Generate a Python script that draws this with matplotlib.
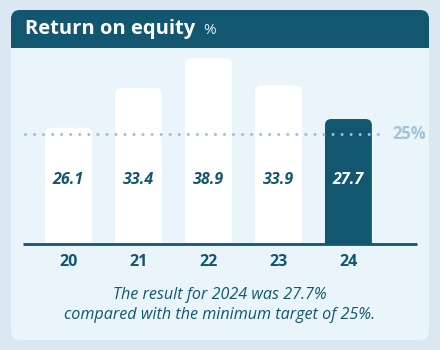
import matplotlib.pyplot as plt
from matplotlib.patches import FancyBboxPatch, Rectangle
import matplotlib.transforms as mtransforms

years = ["20", "21", "22", "23", "24"]
roe = [26.1, 33.4, 38.9, 33.9, 27.7]
target = 25
title = "Return on equity"
unit = "%"
caption = "The result for 2024 was 27.7%\ncompared with the minimum target of 25%."

DARK = "#12566f"
OUTER = "#dbe8f1"
CARD = "#e9f5fb"
DOTS = "#9ec0d6"
FONT = "Open Sans"

W, H = 440, 350
fig = plt.figure(figsize=(W / 100, H / 100), dpi=100, facecolor=OUTER)

# background card drawn in pixel space
bg = fig.add_axes([0, 0, 1, 1])
bg.set_xlim(0, W)
bg.set_ylim(H, 0)
bg.axis("off")
bg.add_patch(FancyBboxPatch((11, 10), 418, 330, boxstyle="round,pad=0,rounding_size=9",
                            fc=CARD, ec="none"))
bg.add_patch(FancyBboxPatch((11, 10), 418, 38, boxstyle="round,pad=0,rounding_size=9",
                            fc=DARK, ec="none"))
bg.add_patch(Rectangle((11, 30), 418, 18, fc=DARK, ec="none"))
bg.text(25, 29, title, color="white", fontsize=14.5, fontweight="bold",
        family=FONT, va="center", ha="left")
bg.text(203, 30, unit, color="#e6f0f5", fontsize=11, family=FONT, va="center")
bg.text(W / 2, 305, caption, color=DARK, fontsize=11.6, style="italic",
        family=FONT, ha="center", va="center", linespacing=1.38)

# chart axes: x from px 23 to 417, y from px 244 (bottom) to 50
ax = fig.add_axes([23 / W, (H - 244) / H, 394 / W, 194 / H])
ax.patch.set_alpha(0)
for s in ax.spines.values():
    s.set_visible(False)
ax.set_xlim(-0.65, 4.98)
ax.set_ylim(4.6, 40.46)
ax.set_xticks(range(len(years)))
ax.set_xticklabels(years)
ax.tick_params(axis="x", length=0, pad=7, labelsize=11.5, labelcolor=DARK)
for t in ax.get_xticklabels():
    t.set_fontweight("bold")
    t.set_family(FONT)
ax.set_yticks([])

bars = ax.bar(range(len(years)), roe, width=0.67)
for i, b in enumerate(bars):
    b.set_visible(False)
    color = DARK if i == len(years) - 1 else "white"
    ax.add_patch(FancyBboxPatch((b.get_x(), b.get_y()), b.get_width(), b.get_height(),
                                boxstyle="round,pad=0,rounding_size=0.09",
                                mutation_aspect=12.9, fc=color, ec="none", zorder=2))
    ax.text(b.get_x() + b.get_width() / 2, 16.5, f"{roe[i]:.1f}",
            color="white" if i == len(years) - 1 else DARK,
            fontsize=11.5, fontweight="bold", style="italic", family=FONT,
            ha="center", va="center", zorder=4)

ax.axhline(ax.get_ylim()[0], color=DARK, lw=2.0, zorder=5, solid_capstyle="butt",
           clip_on=False)
ax.axhline(target, xmin=0.005, xmax=0.92, color=DOTS, lw=2.2,
           ls=(0, (0.01, 2.95)), dash_capstyle="round", zorder=3)
trans = mtransforms.blended_transform_factory(ax.transAxes, ax.transData)
ax.text(0.938, target, f"{target}%", transform=trans, color="#a3c3d9", fontsize=12,
        fontweight="bold", family=FONT, va="center", ha="left")

fig.savefig("out.png", dpi=100, facecolor=OUTER)
